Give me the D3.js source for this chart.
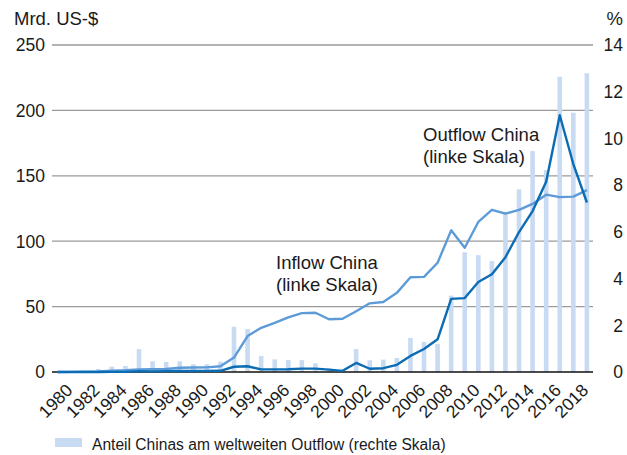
<!DOCTYPE html>
<html>
<head>
<meta charset="utf-8">
<script src="https://cdn.jsdelivr.net/npm/d3@7"></script>
<style>
  body { margin: 0; background: #fff; }
  svg { display: block; font-family: "Liberation Sans", Arial, Helvetica, sans-serif; }
</style>
</head>
<body>
<script>
// years for the bars and the x labels
const years = d3.range(1980, 2019);
// lines start one step earlier (1979)
const lineYears = d3.range(1979, 2019);

// Anteil Chinas am weltweiten Outflow, % (right scale)
const shareOutflow = [
  0, 0, 0.13, 0.23, 0.26, 0.98, 0.46, 0.43, 0.46, 0.33,
  0.33, 0.44, 1.94, 1.84, 0.68, 0.54, 0.51, 0.51, 0.37, 0.15,
  0.07, 0.98, 0.5, 0.53, 0.6, 1.46, 1.29, 1.2, 3.27, 5.13,
  5.0, 4.75, 6.86, 7.82, 9.46, 8.65, 12.64, 11.1, 12.79
];

// Inflow China, Mrd. US-$ (left scale), 1979-2018
const inflow = [
  0, 0.06, 0.3, 0.4, 0.9, 1.3, 2.0, 2.2, 2.3, 3.2,
  3.4, 3.5, 4.4, 11.0, 27.5, 33.8, 37.5, 41.7, 45.0, 45.3,
  40.3, 40.7, 46.5, 52.5, 53.5, 60.5, 72.4, 72.7, 83.5, 108.3,
  95.0, 114.7, 124.0, 121.1, 123.9, 128.5, 135.6, 133.7, 134.1, 139.0
];

// Outflow China, Mrd. US-$ (left scale), 1979-2018
const outflow = [
  0, 0, 0, 0.04, 0.09, 0.13, 0.63, 0.45, 0.65, 0.85,
  0.78, 0.83, 0.91, 4.0, 4.4, 2.0, 2.0, 2.1, 2.6, 2.6,
  1.8, 0.9, 6.9, 2.5, 2.9, 5.5, 12.3, 17.6, 25.0, 55.9,
  56.5, 68.8, 74.7, 87.8, 107.0, 123.0, 145.5, 196.3, 159.0, 129.6
];

const leftTicks = [0, 50, 100, 150, 200, 250];
const rightTicks = [0, 2, 4, 6, 8, 10, 12, 14];
const xLabelYears = years.filter(y => y % 2 === 0);

const width = 627, height = 455;
const plot = { left: 52, right: 593, top: 45, bottom: 372 };
const barColor = "#c9daf3";
const inflowColor = "#5d9bd8";
const outflowColor = "#0b6cb4";
const tickFont = 17.5;
const noteFont = 18.5;

const svg = d3.select("body").append("svg")
  .attr("width", width)
  .attr("height", height);

const x = d3.scaleLinear()
  .domain([1978.59, 2018.45])
  .range([plot.left, plot.right]);
const yLeft = d3.scaleLinear().domain([0, 250]).range([plot.bottom, plot.top]);
const yRight = d3.scaleLinear().domain([0, 14]).range([plot.bottom, plot.top]);

// gridlines
svg.append("g")
  .selectAll("line")
  .data(leftTicks.filter(d => d > 0))
  .enter()
  .append("line")
  .attr("x1", plot.left)
  .attr("x2", plot.right)
  .attr("y1", d => yLeft(d))
  .attr("y2", d => yLeft(d))
  .attr("stroke", "#9a9a9a")
  .attr("stroke-width", 1.3);

// bars
const barW = 4.6;
svg.append("g")
  .selectAll("rect")
  .data(years.map((yr, i) => ({ yr, v: shareOutflow[i] })))
  .enter()
  .append("rect")
  .attr("x", d => x(d.yr) - barW / 2)
  .attr("y", d => yRight(d.v))
  .attr("width", barW)
  .attr("height", d => plot.bottom - yRight(d.v))
  .attr("fill", barColor);

// baseline
svg.append("line")
  .attr("x1", plot.left)
  .attr("x2", plot.right)
  .attr("y1", plot.bottom)
  .attr("y2", plot.bottom)
  .attr("stroke", "#111")
  .attr("stroke-width", 1.3);

const line = d3.line()
  .x(d => x(d.yr))
  .y(d => yLeft(d.v));

svg.append("path")
  .datum(lineYears.map((yr, i) => ({ yr, v: inflow[i] })))
  .attr("d", line)
  .attr("fill", "none")
  .attr("stroke", inflowColor)
  .attr("stroke-width", 2.4)
  .attr("stroke-linejoin", "round");

svg.append("path")
  .datum(lineYears.map((yr, i) => ({ yr, v: outflow[i] })))
  .attr("d", line)
  .attr("fill", "none")
  .attr("stroke", outflowColor)
  .attr("stroke-width", 2.4)
  .attr("stroke-linejoin", "round");

// left axis labels
svg.append("g")
  .selectAll("text")
  .data(leftTicks)
  .enter()
  .append("text")
  .attr("x", 45)
  .attr("y", d => yLeft(d))
  .attr("dy", "0.36em")
  .attr("text-anchor", "end")
  .attr("font-size", tickFont)
  .attr("fill", "#1a1a1a")
  .text(d => d);

// right axis labels
svg.append("g")
  .selectAll("text")
  .data(rightTicks)
  .enter()
  .append("text")
  .attr("x", 623)
  .attr("y", d => yRight(d))
  .attr("dy", "0.36em")
  .attr("text-anchor", "end")
  .attr("font-size", tickFont)
  .attr("fill", "#1a1a1a")
  .text(d => d);

svg.append("text")
  .attr("x", 14).attr("y", 25)
  .attr("font-size", noteFont)
  .attr("fill", "#1a1a1a")
  .text("Mrd. US-$");

svg.append("text")
  .attr("x", 623).attr("y", 25)
  .attr("text-anchor", "end")
  .attr("font-size", noteFont)
  .attr("fill", "#1a1a1a")
  .text("%");

// x labels
svg.append("g")
  .selectAll("text")
  .data(xLabelYears)
  .enter()
  .append("text")
  .attr("transform", d => `translate(${x(d) - 2},${plot.bottom + 15}) rotate(-45)`)
  .attr("dy", "0.36em")
  .attr("text-anchor", "end")
  .attr("font-size", tickFont)
  .attr("fill", "#1a1a1a")
  .text(d => d);

// annotations
const notes = [
  { lines: ["Inflow China", "(linke Skala)"], x: 276, y: 269 },
  { lines: ["Outflow China", "(linke Skala)"], x: 423, y: 141 }
];
notes.forEach(n => {
  const t = svg.append("text")
    .attr("font-size", noteFont)
    .attr("fill", "#1a1a1a");
  n.lines.forEach((s, i) => {
    t.append("tspan")
      .attr("x", n.x)
      .attr("y", n.y + i * 21.5)
      .text(s);
  });
});

// legend
svg.append("rect")
  .attr("x", 55).attr("y", 438)
  .attr("width", 27).attr("height", 9)
  .attr("fill", barColor);
svg.append("text")
  .attr("x", 92).attr("y", 450)
  .attr("font-size", 15.6)
  .attr("fill", "#1a1a1a")
  .text("Anteil Chinas am weltweiten Outflow (rechte Skala)");
</script>
</body>
</html>
